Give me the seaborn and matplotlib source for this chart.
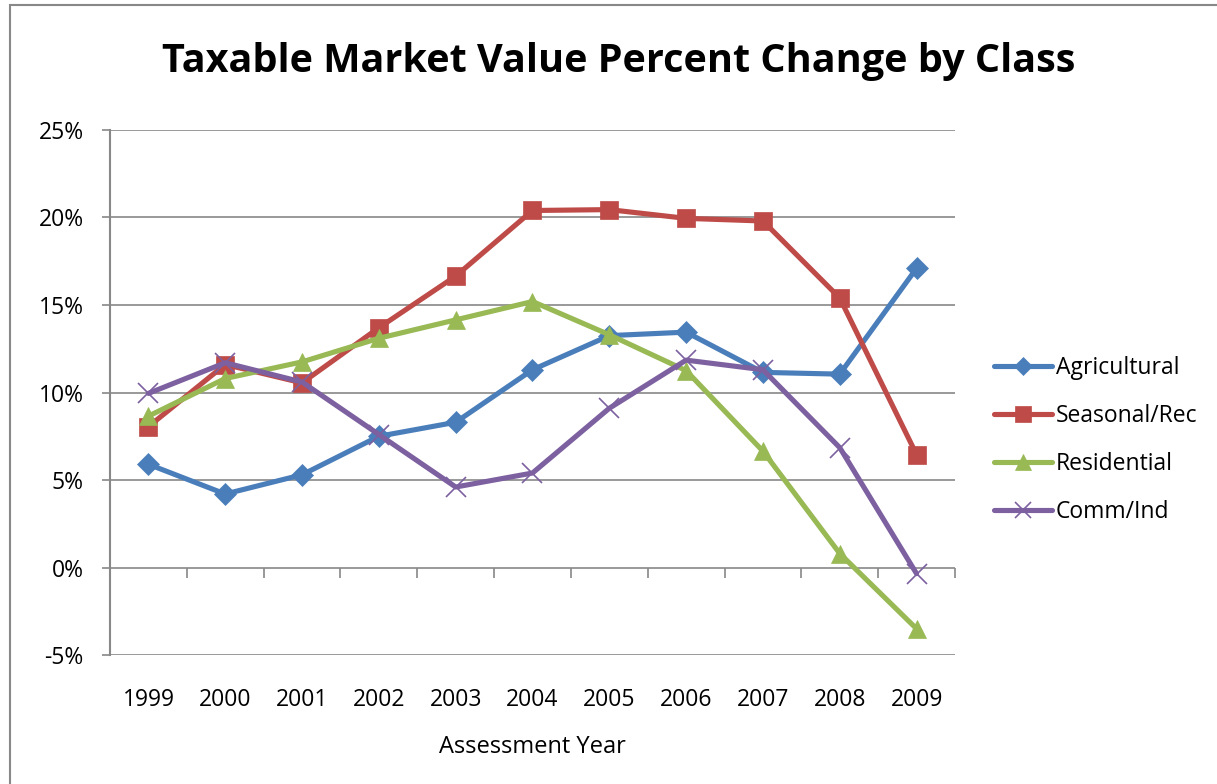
import matplotlib
matplotlib.use("Agg")
import matplotlib.pyplot as plt
import seaborn as sns
import pandas as pd
import numpy as np
from matplotlib.patches import Rectangle
from matplotlib.lines import Line2D

years = [1999, 2000, 2001, 2002, 2003, 2004, 2005, 2006, 2007, 2008, 2009]
agricultural = [5.9, 4.2, 5.3, 7.5, 8.3, 11.3, 13.25, 13.45, 11.15, 11.05, 17.1]
seasonal_rec = [8.05, 11.6, 10.55, 13.7, 16.65, 20.4, 20.45, 19.95, 19.8, 15.4, 6.45]
residential = [8.65, 10.8, 11.75, 13.1, 14.15, 15.2, 13.3, 11.25, 6.65, 0.8, -3.5]
comm_ind = [9.95, 11.7, 10.6, 7.6, 4.6, 5.4, 9.1, 11.85, 11.3, 6.85, -0.35]
series_names = ["Agricultural", "Seasonal/Rec", "Residential", "Comm/Ind"]
yticks = [-5, 0, 5, 10, 15, 20, 25]

colors = {"Agricultural": "#4A7EBB", "Seasonal/Rec": "#BE4B48",
          "Residential": "#98B954", "Comm/Ind": "#7D60A0"}
markers = {"Agricultural": "D", "Seasonal/Rec": "s", "Residential": "^", "Comm/Ind": "x"}
msizes = {"Agricultural": 11, "Seasonal/Rec": 13, "Residential": 13, "Comm/Ind": 14}

rows = []
for name, vals in zip(series_names, [agricultural, seasonal_rec, residential, comm_ind]):
    for i, (y, v) in enumerate(zip(years, vals)):
        rows.append({"pos": i, "year": str(y), "value": v, "Class": name})
df = pd.DataFrame(rows)

sns.set_theme(style="white")
plt.rcParams['font.family'] = ['Open Sans', 'DejaVu Sans']
plt.rcParams['text.color'] = 'black'
plt.rcParams['axes.labelcolor'] = 'black'
plt.rcParams['xtick.color'] = 'black'
plt.rcParams['ytick.color'] = 'black'

fig = plt.figure(figsize=(12.17, 7.84), dpi=100)
ax = fig.add_axes([0.0904, 0.1645, 0.6943, 0.6697])

for name in series_names:
    sub = df[df["Class"] == name]
    sns.lineplot(data=sub, x="pos", y="value", ax=ax, color=colors[name],
                 linewidth=3.7, marker=markers[name], markersize=msizes[name],
                 markeredgecolor=colors[name],
                 markeredgewidth=1.2 if name == "Comm/Ind" else 0.5,
                 label=name, legend=False, zorder=3)

ax.set_xlim(-0.5, len(years) - 0.5)
ax.set_ylim(-5, 25)
ax.set_yticks(yticks)
ax.set_yticklabels([f"{t}%" for t in yticks], fontsize=16.5)
ax.set_xticks(range(len(years)))
ax.set_xticklabels([str(y) for y in years], fontsize=16.5)
ax.tick_params(axis="x", length=0, pad=24)
ax.tick_params(axis="y", length=6, width=1.2, color="#888888", direction="out", pad=13, left=True)
ax.grid(axis="y", color="#888888", linewidth=1.2)
ax.set_axisbelow(True)
for s in ["top", "right", "bottom"]:
    ax.spines[s].set_visible(False)
ax.spines["left"].set_color("#888888")
ax.spines["left"].set_linewidth(1.5)
ax.set_xlabel("Assessment Year", fontsize=17, labelpad=16)
ax.set_ylabel("")

sec = ax.secondary_xaxis(5 / 30)
sec.set_xticks(np.arange(-0.5, len(years), 1.0))
sec.tick_params(axis="x", direction="out", length=7, width=1.2, color="#888888", labelbottom=False, bottom=True, top=False)
sec.set_xticklabels([])
sec.spines["bottom"].set_visible(False)
sec.spines["top"].set_visible(False)
sec.xaxis.set_ticks_position("bottom")

fig.text(0.508, 0.922, "Taxable Market Value Percent Change by Class",
         ha="center", va="center", fontsize=28.5, fontweight="bold", color="black")

handles = [Line2D([0], [0], color=colors[n], linewidth=3.7, marker=markers[n],
                  markersize=msizes[n] * 0.85, markeredgecolor=colors[n],
                  markeredgewidth=1.2 if n == "Comm/Ind" else 0.5) for n in series_names]
fig.legend(handles, series_names, loc="center left", bbox_to_anchor=(0.8, 0.439),
           frameon=False, fontsize=16.5, handlelength=2.5, labelspacing=1.05, handletextpad=0.2)

fig.patches.append(Rectangle((10 / 1217, -0.05), 1.1, 1 - 5 / 784 + 0.05,
                             transform=fig.transFigure, fill=False,
                             edgecolor="#888888", linewidth=1.5))

fig.savefig("out.png", dpi=100)
